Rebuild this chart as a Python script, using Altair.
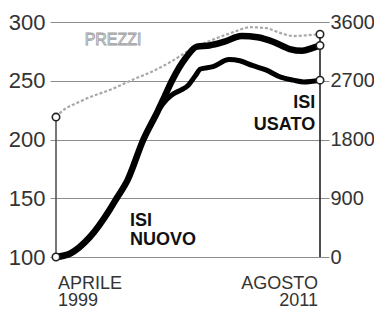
import altair as alt
import pandas as pd

# ---- data ----
# months since April 1999 (0) to August 2011 (148)
nuovo_m = [0, 8, 19, 30, 34, 40, 49, 57, 61, 65, 73, 79, 86, 94, 104, 113, 122, 131, 138, 144, 148]
nuovo_v = [100, 103, 117, 140, 150, 165, 200, 224, 237, 250, 270, 279, 280, 283, 288, 287, 283, 277, 275.5, 278, 280]

usato_m = [0, 8, 19, 30, 34, 40, 49, 57, 62, 66, 70, 74, 78, 81, 88, 97, 103, 110, 118, 126, 133, 139, 148]
usato_v = [100, 103, 117, 140, 150, 165, 200, 224, 234, 239, 242, 246, 254, 260, 262, 268, 267, 263, 259, 253, 250.5, 249, 250.5]

prezzi_m = [0, 2, 15, 32, 45, 53, 65, 75, 88, 98, 109, 118, 126, 133, 140, 148]
prezzi_v = [2143, 2200, 2400, 2580, 2740, 2830, 3000, 3170, 3330, 3430, 3520, 3505, 3430, 3385, 3395, 3413]

left_ticks = [100, 150, 200, 250, 300]
right_ticks = [0, 900, 1800, 2700, 3600]

x_labels = ["APRILE", "1999", "AGOSTO", "2011"]
x_label_m = [0, 0, 148, 148]
x_label_v = [72.8, 58.3, 72.8, 58.3]
x_label_align = ["left", "left", "right", "right"]

series_labels = ["ISI", "NUOVO", "ISI", "USATO"]
series_label_m = [41.5, 41.5, 145.3, 145.3]
series_label_v = [126.0, 110.2, 226.7, 208.0]
series_label_align = ["left", "left", "right", "right"]

LEFT_DOM = [100, 300]
RIGHT_DOM = [0, 3600]
ratio = (RIGHT_DOM[1] - RIGHT_DOM[0]) / (LEFT_DOM[1] - LEFT_DOM[0])

FONT = "Liberation Sans"

xs = alt.Scale(domain=[-3.364, 153.045], nice=False, zero=False)


def X(field):
    return alt.X(field, type="quantitative", scale=xs, axis=None)


def YL(field):
    return alt.Y(field, type="quantitative",
                 scale=alt.Scale(domain=LEFT_DOM, nice=False, zero=False),
                 axis=alt.Axis(values=left_ticks, orient="left", grid=True,
                               gridColor="#8c8c8c", gridWidth=1, ticks=False,
                               domain=False, labelFont=FONT, labelFontSize=22,
                               labelColor="#333333", labelPadding=5, format="d",
                               labelOverlap=False, title=None))


def YR(field):
    return alt.Y(field, type="quantitative",
                 scale=alt.Scale(domain=RIGHT_DOM, nice=False, zero=False),
                 axis=alt.Axis(values=right_ticks, orient="right", grid=False,
                               ticks=False, domain=False, labelFont=FONT,
                               labelFontSize=20, labelColor="#333333", format="d",
                               labelPadding=1, labelOverlap=False, title=None))


df_n = pd.DataFrame({"m": nuovo_m, "v": nuovo_v})
df_u = pd.DataFrame({"m": usato_m, "v": usato_v})
df_p = pd.DataFrame({"m": prezzi_m, "v": prezzi_v})

p_start = LEFT_DOM[0] + prezzi_v[0] / ratio
p_end = LEFT_DOM[0] + prezzi_v[-1] / ratio

df_rules = pd.DataFrame({"m": [prezzi_m[0], prezzi_m[-1]],
                         "top": [p_start, p_end],
                         "bottom": [LEFT_DOM[0], LEFT_DOM[0]],
                         "c": ["#555555", "#222222"]})

df_circ = pd.DataFrame({
    "m": [nuovo_m[0], nuovo_m[-1], usato_m[-1], prezzi_m[0], prezzi_m[-1]],
    "v": [nuovo_v[0], nuovo_v[-1], usato_v[-1], p_start, p_end],
})

df_xl = pd.DataFrame({"t": x_labels, "m": x_label_m, "v": x_label_v, "a": x_label_align})
df_sl = pd.DataFrame({"t": series_labels, "m": series_label_m, "v": series_label_v, "a": series_label_align})
df_pl = pd.DataFrame({"t": ["PREZZI"], "m": [32.0], "v": [280.3]})

prezzi_line = alt.Chart(df_p).mark_line(
    color="#a8a8a8", strokeWidth=2.2, strokeDash=[3, 2], interpolate="monotone"
).encode(x=X("m"), y=YR("v"))

right = alt.layer(prezzi_line)

usato_line = alt.Chart(df_u).mark_line(
    color="#000000", strokeWidth=5, interpolate="monotone", strokeCap="round"
).encode(x=X("m"), y=YL("v"))

nuovo_line = alt.Chart(df_n).mark_line(
    color="#000000", strokeWidth=6.5, interpolate="monotone", strokeCap="round"
).encode(x=X("m"), y=YL("v"))

rules = alt.Chart(df_rules).mark_rule(strokeWidth=1.6).encode(
    x=X("m"), y=YL("bottom"), y2="top", color=alt.Color("c:N", scale=None)
)

circles = alt.Chart(df_circ).mark_point(
    shape="circle", size=55, filled=True, fill="white", stroke="#222222",
    strokeWidth=1.6, opacity=1
).encode(x=X("m"), y=YL("v"))

xl_left = alt.Chart(df_xl[df_xl.a == "left"]).mark_text(
    font=FONT, fontSize=18, color="#333333", align="left", baseline="alphabetic", dx=2
).encode(x=X("m"), y=YL("v"), text="t:N")

xl_right = alt.Chart(df_xl[df_xl.a == "right"]).mark_text(
    font=FONT, fontSize=18, color="#333333", align="right", baseline="alphabetic", dx=-2
).encode(x=X("m"), y=YL("v"), text="t:N")

sl_left = alt.Chart(df_sl[df_sl.a == "left"]).mark_text(
    font=FONT, fontSize=18, fontWeight="bold", color="#111111", align="left",
    baseline="alphabetic"
).encode(x=X("m"), y=YL("v"), text="t:N")

sl_right = alt.Chart(df_sl[df_sl.a == "right"]).mark_text(
    font=FONT, fontSize=18, fontWeight="bold", color="#111111", align="right",
    baseline="alphabetic"
).encode(x=X("m"), y=YL("v"), text="t:N")

prezzi_lbl = alt.Chart(df_pl).mark_text(
    font=FONT, fontSize=16, color="white", stroke="#a0a0a0", strokeWidth=0.9,
    align="center", baseline="alphabetic"
).encode(x=X("m"), y=YL("v"), text="t:N")

left = alt.layer(usato_line, nuovo_line, rules, circles, xl_left, xl_right,
                 sl_left, sl_right, prezzi_lbl)

chart = alt.layer(right, left).resolve_scale(y="independent").properties(
    width=279, height=235,
    autosize=alt.AutoSizeParams(type="none"),
    padding={"left": 42, "top": 14, "right": 45, "bottom": 50},
    background="white",
).configure_view(stroke=None)

chart.save("out.html", embed_options={"renderer": "svg", "actions": False})
